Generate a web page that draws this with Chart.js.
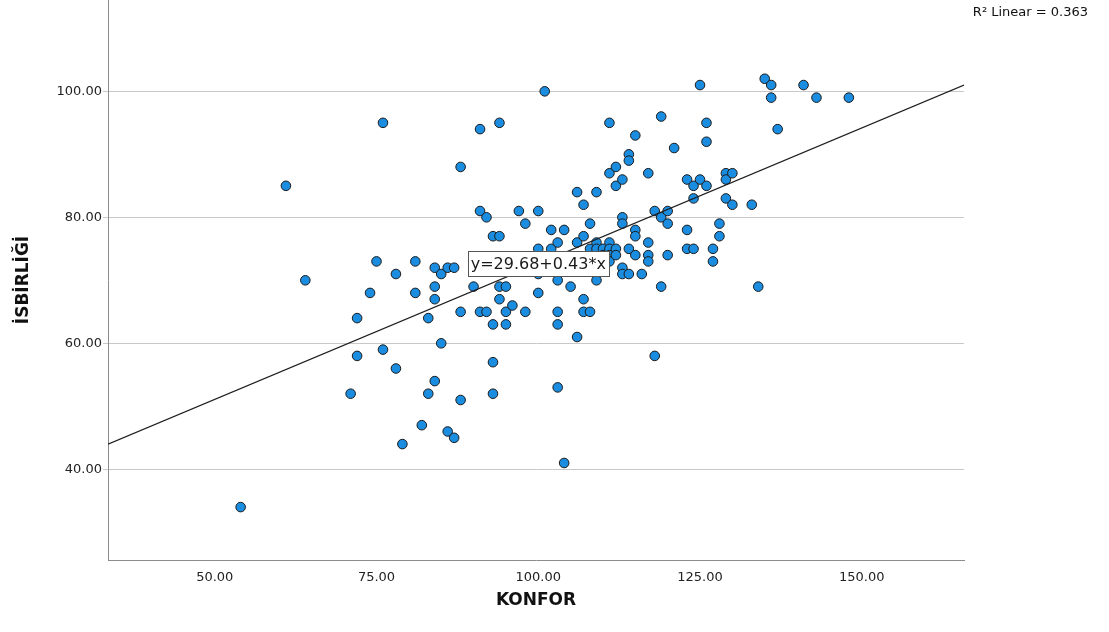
<!DOCTYPE html>
<html lang="tr">
<head>
<meta charset="utf-8">
<title>KONFOR - İSBİRLİĞİ</title>
<script src="https://cdn.jsdelivr.net/npm/chart.js@4.4.1/dist/chart.umd.min.js"></script>
<style>
    html, body { margin: 0; padding: 0; background: #ffffff; }
    #grafico-wrap { width: 1109px; height: 632px; position: relative; }
</style>
</head>
<body>
<div id="grafico-wrap"><canvas id="grafico-dagilim" width="1109" height="632"></canvas></div>
<script>
// Veriler
const konfor = [
    54, 61, 64, 71, 72, 72, 74, 75, 76, 76, 78, 78, 79, 81, 81, 82, 83, 83, 84, 84,
    84, 84, 85, 85, 86, 86, 87, 87, 88, 88, 88, 90, 91, 91, 91, 92, 92, 93, 93, 93,
    93, 94, 94, 94, 94, 95, 95, 95, 96, 97, 98, 98, 100, 100, 100, 100, 101, 102, 102, 103,
    103, 103, 103, 103, 104, 104, 105, 106, 106, 106, 107, 107, 107, 107, 108, 108, 108, 109, 109, 109,
    109, 110, 110, 111, 111, 111, 111, 111, 111, 112, 112, 112, 112, 113, 113, 113, 113, 113, 114, 114,
    114, 114, 115, 115, 115, 115, 116, 117, 117, 117, 117, 118, 118, 119, 119, 119, 120, 120, 120, 121,
    123, 123, 123, 124, 124, 124, 125, 125, 126, 126, 126, 127, 127, 128, 128, 129, 129, 129, 130, 130,
    133, 134, 135, 136, 136, 137, 141, 143, 148
];
const isbirligi = [
    34, 85, 70, 52, 64, 58, 68, 73, 95, 59, 71, 56, 44, 73, 68, 47, 64, 52, 72, 69,
    67, 54, 71, 60, 72, 46, 72, 45, 88, 65, 51, 69, 94, 81, 65, 80, 65, 77, 63, 57,
    52, 95, 77, 69, 67, 69, 65, 63, 66, 81, 79, 65, 81, 75, 71, 68, 100, 78, 75, 76,
    70, 65, 63, 53, 78, 41, 69, 84, 76, 61, 82, 77, 67, 65, 79, 75, 65, 84, 76, 75,
    70, 75, 74, 95, 87, 76, 75, 74, 73, 88, 85, 75, 74, 86, 80, 79, 72, 71, 90, 89,
    75, 71, 93, 78, 77, 74, 71, 87, 76, 74, 73, 81, 58, 96, 80, 69, 81, 79, 74, 91,
    86, 78, 75, 85, 83, 75, 101, 86, 95, 92, 85, 75, 73, 79, 77, 87, 86, 83, 87, 82,
    82, 69, 102, 101, 99, 94, 101, 99, 99
];
const xTicks = [50, 75, 100, 125, 150];
const yTicks = [40, 60, 80, 100];
// Doğrusal uyum çizgisinin uç noktaları
const fitX = [33.5, 165.8];
const fitY = [44.0, 101.0];
const denklem = 'y=29.68+0.43*x';
const r2Metni = 'R² Linear = 0.363';
const xBaslik = 'KONFOR';
const yBaslik = 'İSBİRLİĞİ';

// Eksen başlıkları, denklem kutusu ve R² yazısı
const yaziEklentisi = {
    id: 'yazilar',
    afterDatasetsDraw(chart) {
        const { ctx, scales } = chart;
        const cx = scales.x.getPixelForValue(100);
        const cy = scales.y.getPixelForValue(72.6);

        ctx.save();
        ctx.font = '16px "DejaVu Sans"';
        const w = Math.round(ctx.measureText(denklem).width + 6);
        const h = 25;
        const bx = Math.round(cx - w / 2);
        const by = Math.round(cy - h / 2);
        ctx.fillStyle = '#ffffff';
        ctx.fillRect(bx, by, w, h);
        ctx.strokeStyle = '#555555';
        ctx.lineWidth = 1;
        ctx.strokeRect(bx + 0.5, by + 0.5, w, h);
        ctx.fillStyle = '#1a1a1a';
        ctx.textAlign = 'center';
        ctx.textBaseline = 'middle';
        ctx.fillText(denklem, cx, cy + 1);
        ctx.restore();
    },
    afterDraw(chart) {
        const { ctx, chartArea } = chart;
        ctx.save();
        ctx.fillStyle = '#111111';
        ctx.textAlign = 'center';
        ctx.textBaseline = 'middle';

        // X ekseni başlığı
        ctx.font = 'bold 17px "DejaVu Sans"';
        ctx.fillText(xBaslik, (chartArea.left + chartArea.right) / 2, 601);

        // Y ekseni başlığı
        ctx.translate(24, (chartArea.top + chartArea.bottom) / 2);
        ctx.rotate(-Math.PI / 2);
        ctx.fillText(yBaslik, 0, 0);
        ctx.restore();

        // R² yazısı
        ctx.save();
        ctx.font = '13px "DejaVu Sans"';
        ctx.fillStyle = '#111111';
        ctx.textAlign = 'right';
        ctx.textBaseline = 'middle';
        ctx.fillText(r2Metni, 1088, 13);
        ctx.restore();
    }
};

class DagilimGrafigi {
    constructor() {
        this.grafik = null;
        this.initialize();
    }

    initialize() {
        const ctx = document.getElementById('grafico-dagilim');
        if (!ctx) return;

        const noktalar = konfor.map((x, i) => ({ x: x, y: isbirligi[i] }));
        const cizgi = fitX.map((x, i) => ({ x: x, y: fitY[i] }));
        const tickFont = { family: 'DejaVu Sans', size: 13 };

        this.grafik = new Chart(ctx.getContext('2d'), {
            type: 'scatter',
            data: {
                datasets: [
                    {
                        type: 'line',
                        data: cizgi,
                        borderColor: '#1f1f1f',
                        borderWidth: 1.2,
                        pointRadius: 0,
                        fill: false,
                        order: 0
                    },
                    {
                        data: noktalar,
                        backgroundColor: '#1b8de0',
                        borderColor: '#1a1a1a',
                        borderWidth: 1,
                        pointRadius: 4.8,
                        order: 1
                    }
                ]
            },
            options: {
                responsive: false,
                animation: false,
                layout: {
                    autoPadding: false,
                    padding: { left: 0, right: 145, top: 0, bottom: 0 }
                },
                plugins: {
                    legend: { display: false },
                    tooltip: { enabled: false }
                },
                scales: {
                    x: {
                        type: 'linear',
                        min: 33.5,
                        max: 165.8,
                        afterFit: (s) => {
                            s.height = 72;
                            s.paddingLeft = 0;
                            s.paddingRight = 0;
                        },
                        afterBuildTicks: (s) => { s.ticks = xTicks.map(v => ({ value: v })); },
                        grid: { display: false, drawTicks: false },
                        border: { display: true, color: '#8c8c8c' },
                        ticks: {
                            callback: (v) => Number(v).toFixed(2),
                            font: tickFont,
                            color: '#222222',
                            padding: 10,
                            maxRotation: 0,
                            autoSkip: false
                        }
                    },
                    y: {
                        type: 'linear',
                        min: 25.6,
                        max: 114.5,
                        afterFit: (s) => {
                            s.width = 108;
                            s.paddingTop = 0;
                            s.paddingBottom = 0;
                        },
                        afterBuildTicks: (s) => { s.ticks = yTicks.map(v => ({ value: v })); },
                        grid: { color: '#c8c8c8', tickLength: 5, drawTicks: true },
                        border: { display: true, color: '#8c8c8c' },
                        ticks: {
                            callback: (v) => Number(v).toFixed(2),
                            font: tickFont,
                            color: '#222222',
                            padding: 1,
                            autoSkip: false
                        }
                    }
                }
            },
            plugins: [yaziEklentisi]
        });
    }
}

document.addEventListener('DOMContentLoaded', () => {
    window.dagilimGrafigi = new DagilimGrafigi();
});
</script>
</body>
</html>
